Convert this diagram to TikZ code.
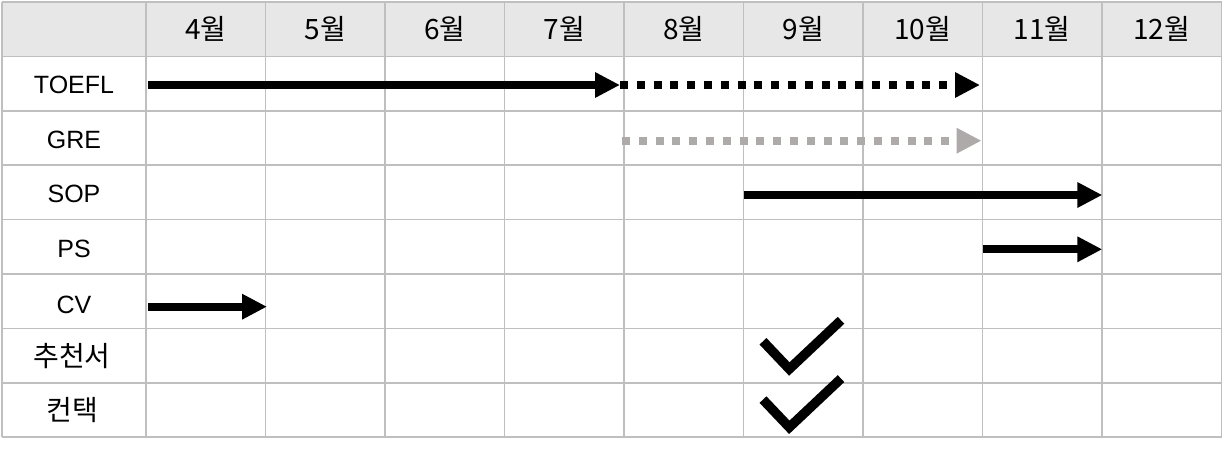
\documentclass[tikz,border=0pt]{standalone}
\usepackage{fontspec}
\setmainfont{Liberation Sans}
\newfontfamily\krfont{Noto Sans CJK KR}
\usetikzlibrary{arrows.meta}
\definecolor{gridc}{HTML}{BFBFBF}
\definecolor{headc}{HTML}{E7E7E7}
\definecolor{greyarrow}{HTML}{AEAAAA}
\tikzset{
  gridline/.style={draw=gridc, line width=1.5pt},
  hdr/.style={font=\krfont\fontsize{28}{32}\selectfont, anchor=center, inner sep=0pt},
  lbl/.style={font=\fontsize{25}{30}\selectfont, anchor=center, inner sep=0pt},
  krlbl/.style={font=\krfont\fontsize{28}{32}\selectfont, anchor=center, inner sep=0pt},
  bar/.style={line width=8pt, -{Triangle[length=25pt,width=24pt]}},
  dotbar/.style={bar, dash pattern=on 8pt off 8.8pt},
  checkmark/.style={line width=9.5pt, miter limit=10},
}
\begin{document}
\begin{tikzpicture}[x=1pt,y=-1pt]
\useasboundingbox (0,0) rectangle (1224,450);
% header background
\fill[headc] (2,2) rectangle (1221.5,56.4);
% grid
\foreach \k in {0,...,8}{
  \draw[gridline] (2,{2+54.4*\k}) -- (1221.5,{2+54.4*\k});
}
\draw[gridline] (2,2) -- (2,437.2);
\foreach \k in {0,...,9}{
  \draw[gridline] ({146+119.5*\k},2) -- ({146+119.5*\k},437.2);
}
% month headers
\foreach \m [count=\j from 0] in {4,5,6,7,8,9,10,11,12}{
  \node[hdr] (h\m) at ({146+119.5*\j+59.75},29) {{\m}월};
}
% row labels
\node[lbl] (toefl) at (74,85) {TOEFL};
\node[lbl] (gre) at (74,139.8) {GRE};
\node[lbl] (sop) at (74,194) {SOP};
\node[lbl] (ps) at (74,249) {PS};
\node[lbl] (cv) at (74,304.7) {CV};
\node[krlbl] (rec) at (72,356) {추천서};
\node[krlbl] (contact) at (72,410.5) {컨택};
% arrow end points
\coordinate (t0) at (148,85);
\coordinate (t1) at (620,85);
\coordinate (t2) at (980,85);
\coordinate (g0) at (622,140.7);
\coordinate (g1) at (981.5,140.7);
\coordinate (s0) at (743.5,195);
\coordinate (s1) at (1102.3,195);
\coordinate (p0) at (982.5,249.3);
\coordinate (p1) at (1102.3,249.3);
\coordinate (c0) at (148,306.7);
\coordinate (c1) at (267,306.7);
% arrows
\draw[bar] (t0) -- (t1);
\draw[dotbar] (t1) -- (t2);
\draw[dotbar, greyarrow] (g0) -- (g1);
\draw[bar] (s0) -- (s1);
\draw[bar] (p0) -- (p1);
\draw[bar] (c0) -- (c1);
% check marks
\coordinate (ka) at (763,341.3);
\coordinate (kb) at (789.3,369);
\coordinate (kc) at (841,320.3);
\coordinate (la) at (763,399.6);
\coordinate (lb) at (789.3,427.3);
\coordinate (lc) at (841,378.6);
\draw[checkmark] (ka) -- (kb) -- (kc);
\draw[checkmark] (la) -- (lb) -- (lc);
\end{tikzpicture}
\end{document}
